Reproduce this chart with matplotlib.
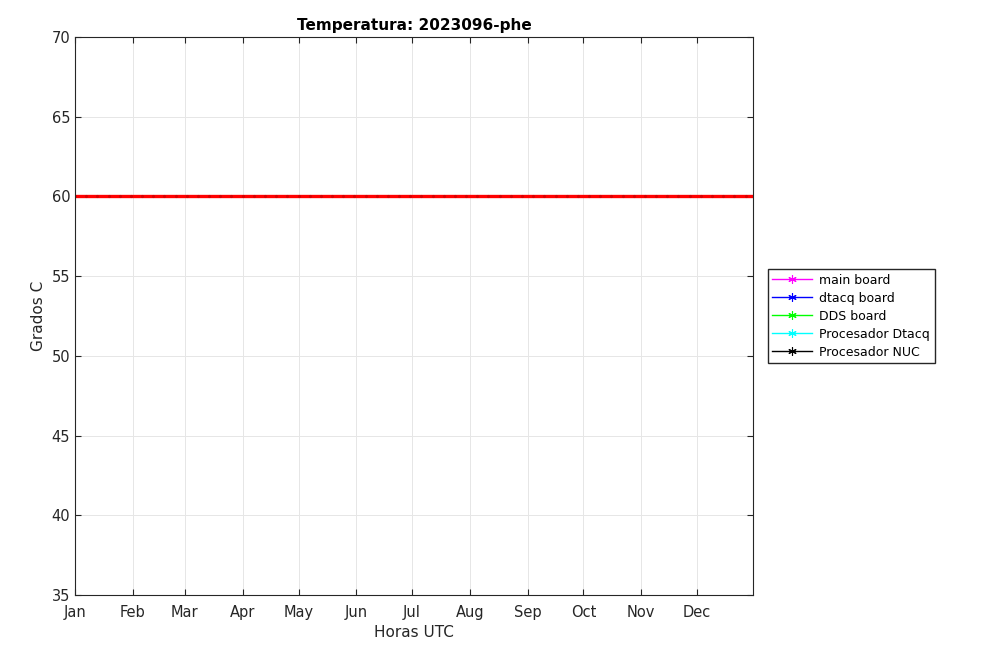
import numpy as np
import pandas as pd
import matplotlib
matplotlib.use('Agg')
import matplotlib.pyplot as plt
import matplotlib.dates as mdates

# series (no readings in this period)
labels = ['main board', 'dtacq board', 'DDS board', 'Procesador Dtacq', 'Procesador NUC']
colors = ['#ff00ff', '#0000ff', '#00ff00', '#00ffff', '#000000']
limite = 60
dias = pd.date_range('2023-01-01', '2023-12-31', freq='D')
marca_dias = dias[::6]

fig = plt.figure(figsize=(10.08, 6.61), dpi=100)
ax = fig.add_axes([0.0744, 0.0998, 0.6726, 0.8442])

asterisco = (6, 2, 0)
for lab, c in zip(labels, colors):
    ax.plot(dias, np.full(len(dias), np.nan), color=c, marker=asterisco, ms=6,
            mew=0.8, lw=1.0, label=lab)

ax.plot(dias, np.full(len(dias), limite), color='#ff0000', lw=2.4)
ax.plot(marca_dias, np.full(len(marca_dias), limite), ls='none', marker='.', ms=2.5, color='#d80000')

ax.set_xlim(dias[0], dias[-1])
ax.set_ylim(35, 70)
ax.set_yticks(range(35, 71, 5))
ax.xaxis.set_major_locator(mdates.MonthLocator())
ax.xaxis.set_major_formatter(mdates.DateFormatter('%b'))
ax.tick_params(direction='in', top=True, right=True, labelsize=10.5, colors='#262626', length=4)
ax.tick_params(axis='x', pad=7)
for s in ax.spines.values():
    s.set_color('#262626')
    s.set_linewidth(0.8)
ax.grid(True, color='#e6e6e6', lw=0.7)
ax.set_axisbelow(True)

ax.set_title('Temperatura: 2023096-phe', fontsize=11, fontweight='bold', pad=5)
ax.set_xlabel('Horas UTC', fontsize=11, color='#262626', labelpad=4)
ax.set_ylabel('Grados C', fontsize=11, color='#262626')

fig.legend(loc='upper left', bbox_to_anchor=(0.7615, 0.5925), fontsize=9, frameon=True,
           fancybox=False, edgecolor='#262626', framealpha=1, handlelength=3.2,
           borderpad=0.35, labelspacing=0.4, handletextpad=0.6, borderaxespad=0)

fig.savefig('out.png', dpi=100)
